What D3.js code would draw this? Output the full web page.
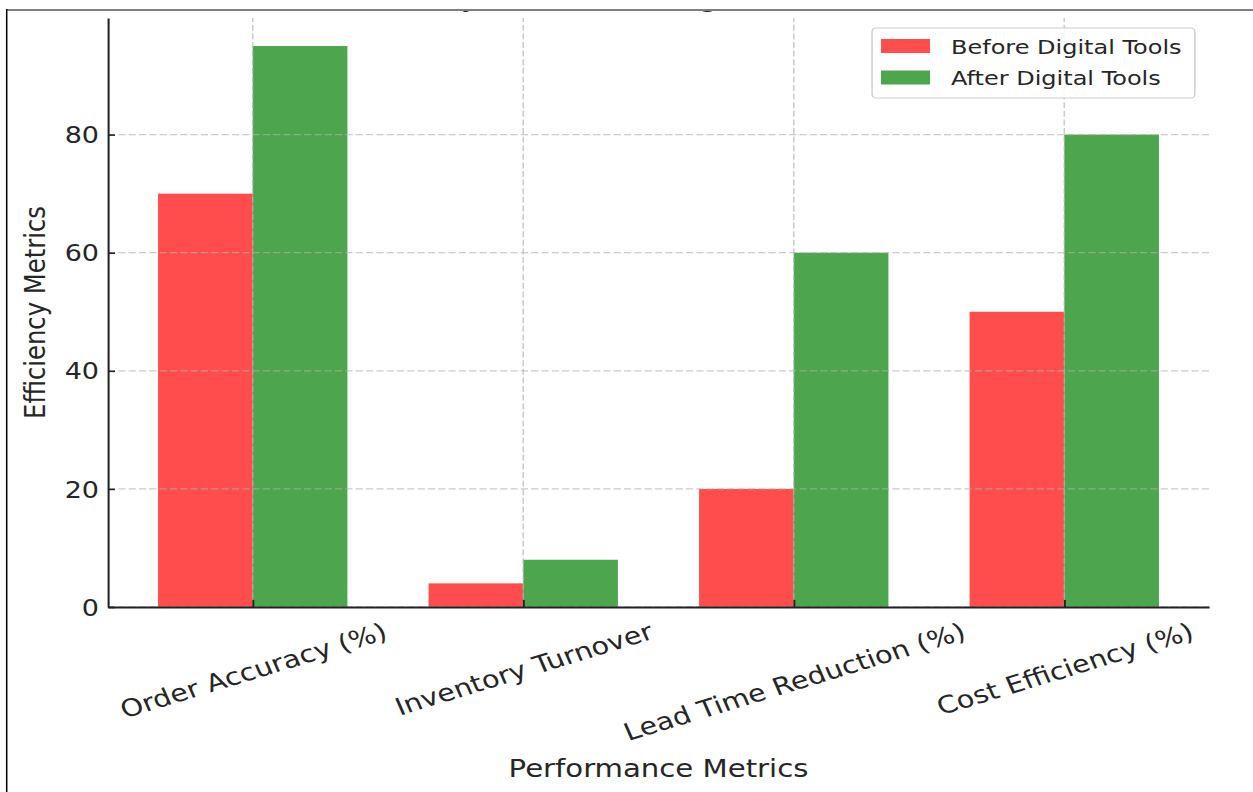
<!DOCTYPE html>
<html>
<head>
<meta charset="utf-8">
<script src="https://cdn.jsdelivr.net/npm/d3@7"></script>
<style>
  html, body { margin: 0; padding: 0; background: #ffffff; }
  svg { display: block; font-family: "DejaVu Sans", sans-serif; }
</style>
</head>
<body>
<script>
// ---- data ----
const categories = ["Order Accuracy (%)", "Inventory Turnover", "Lead Time Reduction (%)", "Cost Efficiency (%)"];
const beforeValues = [70, 4, 20, 50];
const afterValues = [95, 8, 60, 80];
const seriesNames = ["Before Digital Tools", "After Digital Tools"];
const yTicks = [0, 20, 40, 60, 80];
const titleText = "Efficiency Gains from Digital Tools in Retail";
const xLabel = "Performance Metrics";
const yLabel = "Efficiency Metrics";

// ---- styles ----
const colors = ["#ff4d4d", "#4da64d"];
const W = 1253, H = 792, S = 1.2;   // reference is stretched horizontally
const textColor = "#262626";

const svg = d3.select("body").append("svg").attr("width", W).attr("height", H);
svg.append("rect").attr("width", W).attr("height", H).attr("fill", "#fff");

const g = svg.append("g").attr("transform", `scale(${S},1)`);

const x = d3.scaleLinear().domain([-0.535, 3.535]).range([90, 1007.5]);
const y = d3.scaleLinear().domain([0, 99.75]).range([607, 18]);
const bw = 0.35;

// title (mostly cropped by the frame)
g.append("text")
  .attr("x", (x.range()[0] + x.range()[1]) / 2)
  .attr("y", 7)
  .attr("text-anchor", "middle")
  .style("font-size", "25.6px")
  .attr("fill", textColor)
  .text(titleText);

// bars
const series = [beforeValues, afterValues];
series.forEach((vals, si) => {
  g.append("g").selectAll("rect")
    .data(vals)
    .join("rect")
    .attr("x", (d, i) => x(i - bw + si * bw))
    .attr("width", (d, i) => x(i + si * bw) - x(i - bw + si * bw))
    .attr("y", d => y(d))
    .attr("height", d => y(0) - y(d))
    .attr("fill", colors[si]);
});

// grid (drawn above bars, matplotlib default)
const grid = g.append("g").attr("stroke", "#b0b0b0").attr("stroke-opacity", 0.65)
  .attr("stroke-width", 1.3).attr("stroke-dasharray", "6,2.6").attr("fill", "none");
grid.selectAll("line.h").data(yTicks).join("line").attr("class", "h")
  .attr("x1", x.range()[0]).attr("x2", x.range()[1])
  .attr("y1", d => y(d)).attr("y2", d => y(d));
grid.selectAll("line.v").data(categories.map((c, i) => i)).join("line").attr("class", "v")
  .attr("x1", d => x(d)).attr("x2", d => x(d))
  .attr("y1", y.range()[0]).attr("y2", y.range()[1]);

// y axis
const yAxis = g.append("g").attr("transform", `translate(${x.range()[0]},0)`)
  .call(d3.axisLeft(y).tickValues(yTicks).tickSizeInner(-7 / S).tickSizeOuter(0).tickPadding(7.5));
yAxis.select(".domain").attr("stroke", "#222").attr("stroke-width", 1.7);
yAxis.selectAll(".tick line").attr("stroke", "#222").attr("stroke-width", 1.6);
yAxis.selectAll(".tick text").attr("fill", textColor)
  .style("font-size", "22.5px").style("font-family", "DejaVu Sans").attr("dy", "0.36em");

// x axis
const xFont = 24;
const ang = 20 * Math.PI / 180;
const xAxis = g.append("g").attr("transform", `translate(0,${y(0)})`)
  .call(d3.axisBottom(x).tickValues(categories.map((c, i) => i)).tickFormat(i => categories[i])
    .tickSizeInner(-7).tickSizeOuter(0));
xAxis.select(".domain").attr("stroke", "#222").attr("stroke-width", 1.8);
xAxis.selectAll(".tick line").attr("stroke", "#222").attr("stroke-width", 1.6);
xAxis.selectAll(".tick text")
  .style("font-size", xFont + "px").style("font-family", "DejaVu Sans")
  .attr("fill", textColor)
  .attr("text-anchor", "middle")
  .attr("x", 0).attr("y", 0).attr("dy", "0.36em")
  .each(function () {
    const L = this.getComputedTextLength();
    const hh = L * Math.sin(ang) + 0.76 * xFont * Math.cos(ang);
    const cy = 14.5 + hh / 2;
    d3.select(this).attr("transform", `translate(0,${cy}) rotate(-20)`);
  });

// axis labels
g.append("text")
  .attr("x", (x.range()[0] + x.range()[1]) / 2).attr("y", 777)
  .attr("text-anchor", "middle").style("font-size", "24.3px").attr("fill", textColor)
  .text(xLabel);
g.append("text")
  .attr("transform", `translate(37.5,${(y.range()[0] + y.range()[1]) / 2}) rotate(-90)`)
  .attr("text-anchor", "middle").style("font-size", "24.3px").attr("fill", textColor)
  .text(yLabel);

// legend
const lg = g.append("g");
lg.append("rect").attr("x", 726.7).attr("y", 28).attr("width", 269).attr("height", 70)
  .attr("rx", 3.5).attr("ry", 4)
  .attr("fill", "#fff").attr("fill-opacity", 0.85).attr("stroke", "#cccccc").attr("stroke-width", 1.2);
const items = lg.selectAll("g.item").data(seriesNames).join("g").attr("class", "item")
  .attr("transform", (d, i) => `translate(0,${i * 31.5})`);
items.append("rect").attr("x", 734.2).attr("y", 39).attr("width", 40.8).attr("height", 14)
  .attr("fill", (d, i) => colors[i]);
items.append("text").attr("x", 792.5).attr("y", 54).style("font-size", "20px").attr("fill", textColor)
  .text(d => d);

// outer frame (cropped screenshot border)
svg.append("rect").attr("x", 0).attr("y", 0).attr("width", W).attr("height", 9).attr("fill", "#fff");
svg.append("line").attr("x1", 6).attr("x2", W).attr("y1", 10).attr("y2", 10)
  .attr("stroke", "#7f7f7f").attr("stroke-width", 2);
svg.append("line").attr("x1", 6.7).attr("x2", 6.7).attr("y1", 9).attr("y2", H)
  .attr("stroke", "#000").attr("stroke-width", 1.5);
</script>
</body>
</html>
